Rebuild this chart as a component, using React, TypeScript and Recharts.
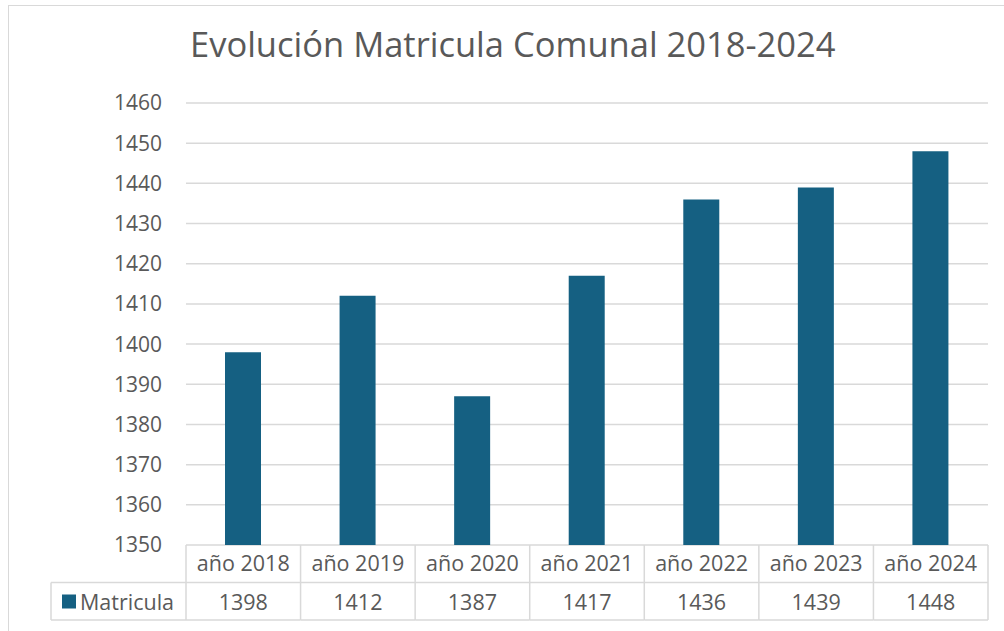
import React from "react";
import { BarChart, Bar, XAxis, YAxis, CartesianGrid } from "recharts";

const years = ["año 2018", "año 2019", "año 2020", "año 2021", "año 2022", "año 2023", "año 2024"];
const matricula = [1398, 1412, 1387, 1417, 1436, 1439, 1448];
const yTicks = [1350, 1360, 1370, 1380, 1390, 1400, 1410, 1420, 1430, 1440, 1450, 1460];

const data = years.map((y, i) => ({ year: y, Matricula: matricula[i] }));

const W = 1004;
const H = 631;
const rowH = 37.5;
const margin = { top: 103, right: 16, bottom: 11, left: 126 };
const yAxisW = 60;
const xAxisH = rowH * 2;
const plotW = W - margin.left - yAxisW - margin.right;
const band = plotW / years.length;
const textColor = "#595959";
const lineColor = "#d9d9d9";
const barColor = "#156082";
const font = "'Open Sans', sans-serif";

// celda de la tabla de datos bajo cada categoría
const TableTick = (props: any) => {
  const { x, y, payload, index } = props;
  const left = x - band / 2;
  return (
    <g>
      <line x1={left + band} y1={y} x2={left + band} y2={y + rowH * 2} stroke={lineColor} strokeWidth={1.5} />
      {index === 0 && (
        <line x1={left} y1={y} x2={left} y2={y + rowH * 2} stroke={lineColor} strokeWidth={1.5} />
      )}
      <line x1={left} y1={y + rowH} x2={left + band} y2={y + rowH} stroke={lineColor} strokeWidth={1.5} />
      <line x1={left} y1={y + rowH * 2} x2={left + band} y2={y + rowH * 2} stroke={lineColor} strokeWidth={1.5} />
      <text x={x} y={y + 26} textAnchor="middle" fill={textColor} fontSize={21.5} fontFamily={font}>
        {payload.value}
      </text>
      <text x={x} y={y + rowH + 27} textAnchor="middle" fill={textColor} fontSize={21.5} fontFamily={font}>
        {matricula[index]}
      </text>
      {index === 0 && (
        <g>
          <line x1={left - 135} y1={y + rowH} x2={left} y2={y + rowH} stroke={lineColor} strokeWidth={1.5} />
          <line x1={left - 135} y1={y + rowH * 2} x2={left} y2={y + rowH * 2} stroke={lineColor} strokeWidth={1.5} />
          <line x1={left - 135} y1={y + rowH} x2={left - 135} y2={y + rowH * 2} stroke={lineColor} strokeWidth={1.5} />
          <rect x={left - 124} y={y + rowH + 12} width={14} height={14} fill={barColor} />
          <text x={left - 106} y={y + rowH + 27} fill={textColor} fontSize={21.5} fontFamily={font}>
            Matricula
          </text>
        </g>
      )}
    </g>
  );
};

export default function App() {
  return (
    <div style={{ position: "absolute", left: 0, top: 0, width: W, height: H, overflow: "hidden", background: "#fff" }}>
      <div
        style={{
          position: "absolute",
          left: 8,
          top: 5,
          width: 1010,
          height: 660,
          border: `1.5px solid ${lineColor}`,
          boxSizing: "border-box",
        }}
      />
      <div
        style={{
          position: "absolute",
          left: 190,
          top: 20,
          whiteSpace: "nowrap",
          fontFamily: font,
          fontSize: 34.5,
          lineHeight: "48px",
          color: textColor,
        }}
      >
        Evolución Matricula Comunal 2018-2024
      </div>
      <div style={{ position: "absolute", left: 0, top: 0 }}>
        <BarChart width={W} height={H} data={data} margin={margin}>
          <CartesianGrid vertical={false} stroke={lineColor} strokeWidth={1.5} />
          <XAxis
            dataKey="year"
            height={xAxisH}
            axisLine={false}
            tickLine={false}
            tickSize={0}
            tickMargin={0}
            interval={0}
            tick={<TableTick />}
          />
          <YAxis
            width={yAxisW}
            domain={[1350, 1460]}
            ticks={yTicks}
            axisLine={false}
            tickLine={false}
            tickSize={0}
            tickMargin={24}
            tick={{ fill: textColor, fontSize: 21, fontFamily: font }}
            interval={0}
            allowDataOverflow
          />
          <Bar dataKey="Matricula" fill={barColor} barSize={36} isAnimationActive={false} />
        </BarChart>
      </div>
    </div>
  );
}
